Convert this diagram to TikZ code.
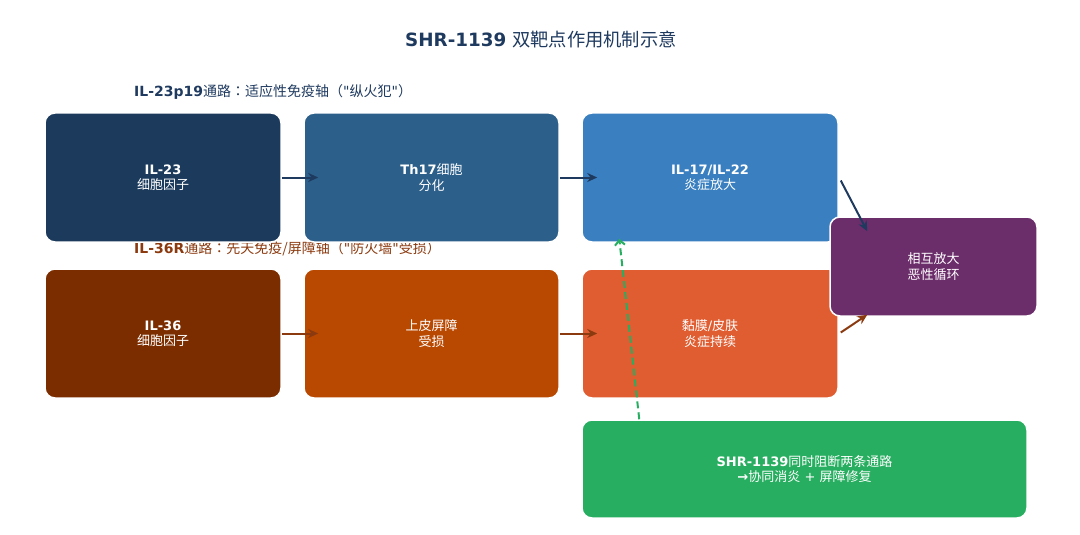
\documentclass[tikz,border=0pt]{standalone}
\usepackage{fontspec}
\setmainfont{DejaVu Sans}
\newfontfamily\cjk{Noto Sans CJK SC}
\newfontfamily\cjkpunct{Noto Sans CJK TC}
\usetikzlibrary{arrows.meta}

\definecolor{titleblue}{HTML}{1F3A5F}
\definecolor{axisbrown}{HTML}{8B3A0F}
\definecolor{cytnavy}{HTML}{1B3A5C}
\definecolor{thblue}{HTML}{2C5F8A}
\definecolor{ilblue}{HTML}{3A80C1}
\definecolor{cytbrown}{HTML}{7B2D00}
\definecolor{barrierorange}{HTML}{B94800}
\definecolor{mucosared}{HTML}{E05D31}
\definecolor{cyclepurple}{HTML}{6C2D6B}
\definecolor{druggreen}{HTML}{27AE60}

% straight double quote, without the TeX mapping
\newcommand{\dq}{\XeTeXglyph\XeTeXcharglyph"22\relax}

\begin{document}
\begin{tikzpicture}[x=1pt,y=-1pt,
  box/.style={rounded corners=10pt, draw=white, line width=1.5pt, text=white,
    align=center, inner sep=0pt, font=\fontsize{13}{15.5}\selectfont},
  flow/.style={line width=2pt, -{Stealth[length=10pt,width=9pt]}}]

\useasboundingbox (0,0) rectangle (1080,535);

% title
\node[text=titleblue, font=\fontsize{18.3}{22}\selectfont] (title) at (541,40)
{\textbf{SHR-1139} {\cjk 双靶点作用机制示意}};

% pathway labels
\node[anchor=west, inner sep=0pt, text=titleblue, font=\fontsize{14}{16}\selectfont] (head23) at (134,92)
{\textbf{IL-23p19}{\cjk 通路}{\cjkpunct ：}{\cjk 适应性免疫轴}{\cjkpunct （}\dq{\cjk 纵火犯}\dq{\cjkpunct ）}};

\node[anchor=west, inner sep=0pt, text=axisbrown, font=\fontsize{14}{16}\selectfont] (head36) at (134,249)
{\textbf{IL-36R}{\cjk 通路}{\cjkpunct ：}{\cjk 先天免疫/屏障轴}{\cjkpunct （}\dq{\cjk 防火墙}\dq{\cjk 受损}{\cjkpunct ）}};

% top row
\node[box, fill=cytnavy, minimum width=236pt, minimum height=129pt] (il23) at (163,177.5)
{\textbf{IL-23}\\{\cjk 细胞因子}};

\node[box, fill=thblue, minimum width=255pt, minimum height=129pt] (th17) at (431.5,177.5)
{\textbf{Th17}{\cjk 细胞}\\{\cjk 分化}};

\node[box, fill=ilblue, minimum width=256pt, minimum height=129pt] (il17) at (710,177.5)
{\textbf{IL-17/IL-22}\\{\cjk 炎症放大}};

% bottom row
\node[box, fill=cytbrown, minimum width=236pt, minimum height=129pt] (il36) at (163,333.5)
{\textbf{IL-36}\\{\cjk 细胞因子}};

\node[box, fill=barrierorange, minimum width=255pt, minimum height=129pt] (barrier) at (431.5,333.5)
{{\cjk 上皮屏障}\\{\cjk 受损}};

\node[box, fill=mucosared, minimum width=256pt, minimum height=129pt] (mucosa) at (710,333.5)
{{\cjk 黏膜}/{\cjk 皮肤}\\{\cjk 炎症持续}};

% vicious cycle
\node[box, fill=cyclepurple, minimum width=207pt, minimum height=99pt] (cycle) at (933.5,266.5)
{{\cjk 相互放大}\\{\cjk 恶性循环}};

% drug
\node[box, fill=druggreen, minimum width=445pt, minimum height=98pt] (drug) at (804.5,469)
{\textbf{SHR-1139}{\cjk 同时阻断两条通路}\\{\bfseries →}{\cjk 协同消炎} + {\cjk 屏障修复}};

% arrows
\draw[flow, titleblue] (il23.east) -- ([xshift=15]th17.west);
\draw[flow, titleblue] (th17.east) -- ([xshift=16]il17.west);
\draw[flow, axisbrown] (il36.east) -- ([xshift=15]barrier.west);
\draw[flow, axisbrown] (barrier.east) -- ([xshift=16]mucosa.west);

\draw[flow, titleblue] ([shift={(2,3)}]il17.east) -- ([shift={(38,15)}]cycle.north west);
\draw[flow, axisbrown] ([shift={(2,-1)}]mucosa.east) -- ([shift={(38,-2)}]cycle.south west);

% blocking
\draw[druggreen, line width=2pt, dash pattern=on 7pt off 4pt, -{Straight Barb[length=5pt]}]
  ([xshift=58]drug.north west) -- ([shift={(38,-4)}]il17.south west);

\end{tikzpicture}
\end{document}
